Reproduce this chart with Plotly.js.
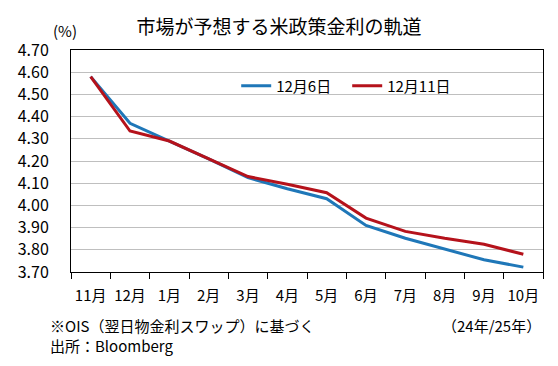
<!DOCTYPE html>
<html>
<head>
<meta charset="utf-8">
<script src="https://cdn.plot.ly/plotly-3.0.1.min.js"></script>
<style>html,body{margin:0;padding:0;background:#fff;}#chart{width:558px;height:366px;}</style>
</head>
<body>
<div id="chart"></div>
<script>
const months = ["11月","12月","1月","2月","3月","4月","5月","6月","7月","8月","9月","10月"];
const dec6 = [4.58, 4.37, 4.29, 4.21, 4.125, 4.075, 4.03, 3.91, 3.852, 3.805, 3.755, 3.722];
const dec11 = [4.58, 4.335, 4.29, 4.21, 4.13, 4.095, 4.057, 3.943, 3.883, 3.852, 3.825, 3.78];
const seriesNames = ["12月6日", "12月11日"];
const yTicks = [3.70, 3.80, 3.90, 4.00, 4.10, 4.20, 4.30, 4.40, 4.50, 4.60, 4.70];

const font = "'Noto Sans CJK JP', 'Noto Sans', sans-serif";

const traces = [
  {x: months, y: dec6, name: seriesNames[0], type: 'scatter', mode: 'lines',
   line: {color: '#1F77B8', width: 3}},
  {x: months, y: dec11, name: seriesNames[1], type: 'scatter', mode: 'lines',
   line: {color: '#B5121B', width: 3}}
];

const layout = {
  width: 558, height: 366,
  margin: {l: 71, r: 15, t: 50, b: 94},
  paper_bgcolor: '#fff', plot_bgcolor: '#fff',
  font: {family: font, size: 15, color: '#000'},
  title: {text: '市場が予想する米政策金利の軌道', x: 0.5, xref: 'container', xanchor: 'center',
          y: 1 - 27/366, yref: 'container', yanchor: 'middle',
          font: {family: font, size: 19, color: '#000'}},
  showlegend: true,
  legend: {orientation: 'h', x: 0.35, xanchor: 'left', y: 0.838, yanchor: 'middle',
           bgcolor: 'rgba(0,0,0,0)', font: {family: font, size: 15, color: '#000'},
           itemwidth: 30, tracegroupgap: 0, entrywidth: 66},
  xaxis: {
    type: 'category', range: [-0.5, 11.5], tickson: 'boundaries', ticks: 'outside', ticklen: 6,
    tickcolor: '#000', tickwidth: 1, tickangle: 0,
    showline: true, linecolor: '#000', linewidth: 1, mirror: true,
    showgrid: false, zeroline: false, ticklabelstandoff: 10,
    tickfont: {family: font, size: 15, color: '#000'}
  },
  yaxis: {
    range: [3.70, 4.70], tickvals: yTicks, tickformat: '.2f',
    showline: true, linecolor: '#000', linewidth: 1, mirror: true,
    showgrid: true, gridcolor: '#BFBFBF', gridwidth: 1, zeroline: false,
    ticks: '', ticklabelstandoff: 18,
    tickfont: {family: font, size: 16, color: '#000'}
  },
  annotations: [
    {text: '(%)', xref: 'paper', yref: 'paper', x: -6/472, y: 1 + 20/222, xanchor: 'center', yanchor: 'middle',
     showarrow: false, font: {family: font, size: 15, color: '#000'}},
    {text: '※OIS（翌日物金利スワップ）に基づく', xref: 'paper', yref: 'paper',
     x: -23/472, y: -53/222, xanchor: 'left', yanchor: 'middle', showarrow: false,
     font: {family: font, size: 15, color: '#000'}},
    {text: '出所：Bloomberg', xref: 'paper', yref: 'paper',
     x: -23/472, y: -73/222, xanchor: 'left', yanchor: 'middle', showarrow: false,
     font: {family: font, size: 15, color: '#000'}},
    {text: '（24年/25年）', xref: 'paper', yref: 'paper',
     x: 1, y: -53/222, xanchor: 'right', yanchor: 'middle', showarrow: false,
     font: {family: font, size: 15, color: '#000'}}
  ]
};

Plotly.newPlot('chart', traces, layout, {displayModeBar: false, staticPlot: true});
</script>
</body>
</html>
